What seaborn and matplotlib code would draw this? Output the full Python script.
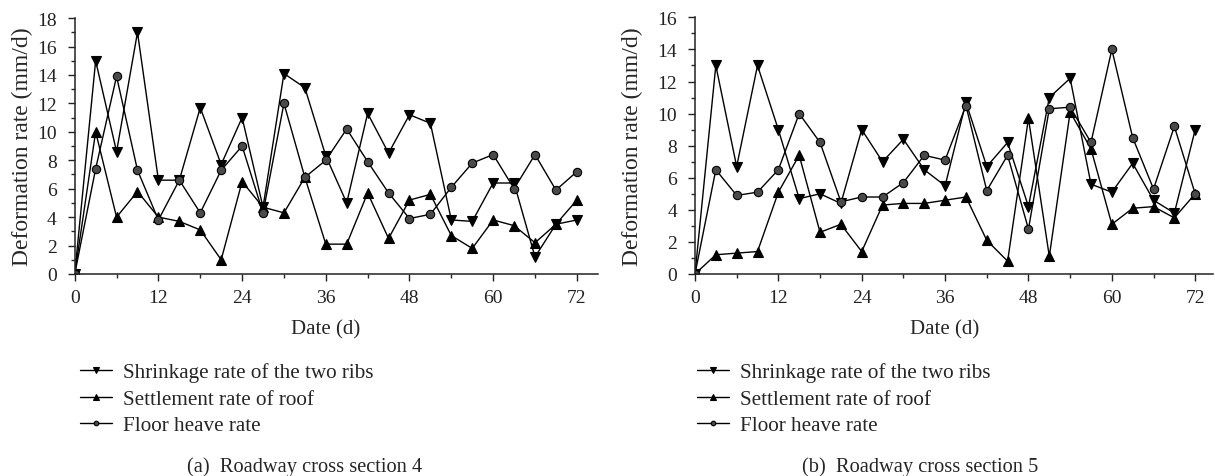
import matplotlib
matplotlib.use("Agg")
import matplotlib.pyplot as plt
import matplotlib.ticker as mticker
import pandas as pd
import seaborn as sns

# Data: every 3 days, 0..72
days = list(range(0, 73, 3))

# (a) Roadway cross section 4
ribs_4 = [0, 15.0, 8.6, 17.0, 6.6, 6.6, 11.7, 7.7, 11.0, 4.7, 14.1, 13.1, 8.3,
          5.0, 11.3, 8.5, 11.2, 10.6, 3.8, 3.7, 6.4, 6.4, 1.2, 3.5, 3.8]
roof_4 = [0, 10.0, 4.0, 5.8, 4.0, 3.7, 3.1, 1.0, 6.5, 4.7, 4.3, 6.8, 2.1,
          2.1, 5.7, 2.5, 5.2, 5.6, 2.7, 1.8, 3.8, 3.4, 2.2, 3.5, 5.2]
floor_4 = [0, 7.4, 13.9, 7.3, 3.8, 6.6, 4.3, 7.3, 9.0, 4.3, 12.0, 6.8, 8.0,
           10.2, 7.9, 5.7, 3.9, 4.2, 6.1, 7.8, 8.4, 6.0, 8.4, 5.9, 7.2]

# (b) Roadway cross section 5
ribs_5 = [0, 13.0, 6.7, 13.0, 9.0, 4.7, 5.0, 4.4, 9.0, 7.0, 8.4, 6.5, 5.5,
          10.7, 6.7, 8.2, 4.2, 11.0, 12.2, 5.6, 5.1, 6.9, 4.6, 3.8, 9.0]
roof_5 = [0, 1.2, 1.3, 1.4, 5.1, 7.4, 2.6, 3.1, 1.4, 4.3, 4.4, 4.4, 4.6,
          4.8, 2.1, 0.8, 9.7, 1.1, 10.1, 7.8, 3.1, 4.1, 4.2, 3.5, 5.0]
floor_5 = [0, 6.5, 4.9, 5.1, 6.5, 10.0, 8.2, 4.5, 4.8, 4.8, 5.7, 7.4, 7.1,
           10.5, 5.2, 7.4, 2.8, 10.3, 10.4, 8.2, 14.0, 8.5, 5.3, 9.2, 5.0]

series_names = ["Shrinkage rate of the two ribs", "Settlement rate of roof", "Floor heave rate"]
captions = ["(a)  Roadway cross section 4", "(b)  Roadway cross section 5"]

sns.set_theme(style="ticks")
plt.rcParams["font.family"] = ["Liberation Serif", "DejaVu Serif"]

fig = plt.figure(figsize=(12.15, 4.77), dpi=100)
ax1 = fig.add_axes([0.0615, 0.4235, 0.4305, 0.5365])
ax2 = fig.add_axes([0.572, 0.4235, 0.426, 0.538])

styles = [
    dict(marker="v", markersize=7, markerfacecolor="black"),
    dict(marker="^", markersize=7, markerfacecolor="black"),
    dict(marker="o", markersize=6, markerfacecolor="#4a4a4a"),
]


def draw_panel(ax, data, ymax, xmax, caption, legend_x, caption_x, ylab_x):
    for name, values, st in zip(series_names, data, styles):
        df = pd.DataFrame({"day": days, "rate": values})
        sns.lineplot(data=df, x="day", y="rate", ax=ax, color="black",
                     linewidth=1.0, markeredgecolor="black",
                     markeredgewidth=0.8, label=name, **st)
    ax.set_xlim(0, xmax)
    ax.set_ylim(0, ymax)
    ax.xaxis.set_major_locator(mticker.MultipleLocator(12))
    ax.xaxis.set_minor_locator(mticker.MultipleLocator(6))
    ax.yaxis.set_major_locator(mticker.MultipleLocator(2))
    ax.yaxis.set_minor_locator(mticker.MultipleLocator(1))
    ax.tick_params(which="major", direction="out", length=5, width=1,
                   labelsize=14, colors="#222222")
    ax.tick_params(which="minor", direction="out", length=3, width=1)
    ax.tick_params(axis="x", which="major", pad=6)
    ax.tick_params(axis="y", which="major", pad=8)
    for s in ["top", "right"]:
        ax.spines[s].set_visible(False)
    for s in ["left", "bottom"]:
        ax.spines[s].set_linewidth(1.1)
        ax.spines[s].set_color("#222222")
    ax.set_xlabel("Date (d)", fontsize=15)
    ax.set_ylabel("Deformation rate (mm/d)", fontsize=17)
    ax.xaxis.set_label_coords(36 / xmax, -0.176)
    ax.yaxis.set_label_coords(ylab_x, 0.5)
    handles, labels = ax.get_legend_handles_labels()
    ax.legend(handles, labels, loc="upper left",
              bbox_to_anchor=(legend_x, 0.238), bbox_transform=fig.transFigure,
              frameon=False, fontsize=15.2, markerscale=0.55, handlelength=1.5,
              handletextpad=0.52, labelspacing=0.32, borderpad=0, borderaxespad=0)
    fig.text(caption_x, 0.021, caption, ha="center", va="center", fontsize=14.7)


draw_panel(ax1, [ribs_4, roof_4, floor_4], 18, 75, captions[0], 0.0658, 0.251, -0.079)
draw_panel(ax2, [ribs_5, roof_5, floor_5], 16, 74.5, captions[1], 0.5737, 0.757, -0.101)

fig.savefig("out.png", dpi=100)
